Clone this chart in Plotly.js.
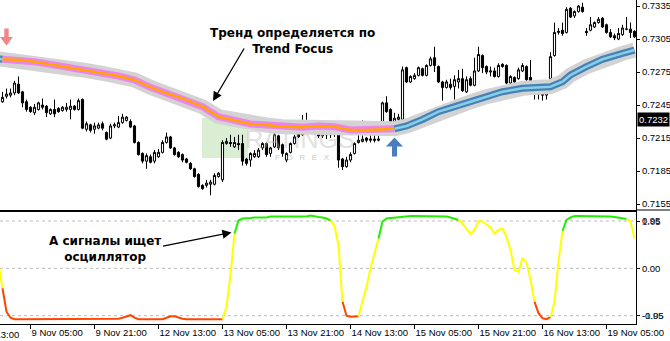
<!DOCTYPE html>
<html><head><meta charset="utf-8">
<script src="https://cdn.plot.ly/plotly-3.0.1.min.js"></script>
<style>html,body{margin:0;padding:0;background:#fff;overflow:hidden}#chart{width:670px;height:341px}</style>
</head><body><div id="chart"></div>
<script>
// ---- DATA (AUDUSD H1, 8 Nov 22:00 .. 19 Nov 12:00) ----
const priceOpen=[
0.7248,0.7253,0.7254,0.7256,0.7264,0.7257,0.7248,0.7243,0.7238,0.7241,
0.7245,0.7244,0.7237,0.7241,0.7242,0.7240,0.7241,0.7241,0.7244,0.7241,
0.7250,0.7223,0.7227,0.7223,0.7224,0.7228,0.7220,0.7215,0.7226,0.7225,
0.7229,0.7231,0.7230,0.7226,0.7211,0.7201,0.7194,0.7198,0.7194,0.7198,
0.7202,0.7211,0.7216,0.7206,0.7202,0.7200,0.7196,0.7192,0.7187,0.7182,
0.7172,0.7172,0.7173,0.7173,0.7180,0.7177,0.7210,0.7211,0.7207,0.7210,
0.7210,0.7196,0.7195,0.7198,0.7198,0.7206,0.7210,0.7201,0.7207,0.7217,
0.7209,0.7195,0.7202,0.7210,0.7220,0.7218,0.7226,0.7220,0.7223,0.7220,
0.7217,0.7220,0.7218,0.7220,0.7218,0.7196,0.7189,0.7195,0.7201,0.7211,
0.7212,0.7215,0.7213,0.7214,0.7213,0.7229,0.7247,0.7241,0.7230,0.7232,
0.7232,0.7279,0.7266,0.7269,0.7272,0.7278,0.7272,0.7281,0.7288,0.7280,
0.7266,0.7261,0.7264,0.7262,0.7266,0.7269,0.7257,0.7269,0.7263,0.7276,
0.7290,0.7280,0.7275,0.7276,0.7271,0.7282,0.7281,0.7265,0.7270,0.7269,
0.7276,0.7280,0.7270,0.7257,0.7255,0.7256,0.7254,0.7269,0.7290,0.7311,
0.7313,0.7311,0.7333,0.7326,0.7330,0.7334,0.7312,0.7313,0.7316,0.7320,
0.7324,0.7318,0.7311,0.7308,0.7305,0.7309,0.7314,0.7314,0.7312];
const priceHigh=[
0.7257,0.7260,0.7260,0.7267,0.7271,0.7258,0.7250,0.7244,0.7246,0.7248,
0.7251,0.7245,0.7242,0.7250,0.7243,0.7244,0.7247,0.7250,0.7245,0.7251,
0.7251,0.7230,0.7228,0.7229,0.7229,0.7230,0.7221,0.7228,0.7229,0.7235,
0.7237,0.7235,0.7232,0.7227,0.7212,0.7202,0.7201,0.7200,0.7204,0.7205,
0.7213,0.7220,0.7217,0.7207,0.7203,0.7201,0.7197,0.7193,0.7188,0.7183,
0.7173,0.7177,0.7177,0.7183,0.7184,0.7213,0.7215,0.7218,0.7216,0.7218,
0.7218,0.7197,0.7202,0.7204,0.7206,0.7211,0.7211,0.7207,0.7220,0.7218,
0.7210,0.7202,0.7211,0.7218,0.7222,0.7236,0.7238,0.7227,0.7226,0.7222,
0.7221,0.7222,0.7221,0.7222,0.7220,0.7197,0.7198,0.7202,0.7211,0.7218,
0.7231,0.7216,0.7225,0.7225,0.7218,0.7248,0.7253,0.7242,0.7238,0.7237,
0.7280,0.7280,0.7272,0.7274,0.7280,0.7279,0.7282,0.7289,0.7298,0.7281,
0.7267,0.7268,0.7269,0.7272,0.7277,0.7278,0.7271,0.7271,0.7288,0.7298,
0.7291,0.7281,0.7280,0.7279,0.7283,0.7283,0.7282,0.7272,0.7271,0.7279,
0.7283,0.7281,0.7286,0.7259,0.7258,0.7258,0.7257,0.7293,0.7320,0.7315,
0.7320,0.7334,0.7334,0.7331,0.7336,0.7338,0.7315,0.7325,0.7321,0.7325,
0.7325,0.7319,0.7314,0.7310,0.7315,0.7318,0.7325,0.7320,0.7313];
const priceLow=[
0.7247,0.7251,0.7252,0.7254,0.7255,0.7243,0.7239,0.7238,0.7236,0.7240,
0.7241,0.7234,0.7236,0.7234,0.7238,0.7239,0.7239,0.7232,0.7240,0.7240,
0.7223,0.7221,0.7220,0.7219,0.7223,0.7222,0.7213,0.7214,0.7224,0.7224,
0.7228,0.7230,0.7224,0.7210,0.7199,0.7192,0.7187,0.7192,0.7192,0.7197,
0.7201,0.7210,0.7205,0.7199,0.7197,0.7193,0.7192,0.7186,0.7179,0.7170,
0.7168,0.7170,0.7163,0.7172,0.7179,0.7175,0.7209,0.7207,0.7206,0.7204,
0.7190,0.7190,0.7189,0.7197,0.7197,0.7204,0.7198,0.7198,0.7206,0.7204,
0.7198,0.7193,0.7201,0.7209,0.7215,0.7217,0.7220,0.7219,0.7218,0.7215,
0.7215,0.7214,0.7215,0.7216,0.7188,0.7186,0.7188,0.7193,0.7200,0.7210,
0.7211,0.7211,0.7211,0.7211,0.7212,0.7228,0.7238,0.7228,0.7229,0.7230,
0.7231,0.7265,0.7265,0.7268,0.7271,0.7271,0.7271,0.7280,0.7275,0.7265,
0.7249,0.7260,0.7259,0.7250,0.7260,0.7257,0.7256,0.7262,0.7262,0.7275,
0.7274,0.7273,0.7271,0.7270,0.7270,0.7279,0.7264,0.7263,0.7265,0.7268,
0.7275,0.7267,0.7263,0.7250,0.7250,0.7249,0.7250,0.7268,0.7289,0.7309,
0.7308,0.7310,0.7324,0.7324,0.7329,0.7329,0.7308,0.7312,0.7315,0.7319,
0.7315,0.7310,0.7306,0.7304,0.7304,0.7308,0.7313,0.7306,0.7306];
const priceClose=[
0.7252,0.7255,0.7256,0.7265,0.7256,0.7247,0.7241,0.7239,0.7243,0.7247,
0.7243,0.7238,0.7241,0.7237,0.7239,0.7243,0.7243,0.7244,0.7241,0.7249,
0.7224,0.7228,0.7222,0.7226,0.7227,0.7224,0.7214,0.7226,0.7227,0.7229,
0.7234,0.7234,0.7225,0.7211,0.7200,0.7194,0.7199,0.7193,0.7202,0.7202,
0.7211,0.7216,0.7206,0.7200,0.7198,0.7195,0.7193,0.7187,0.7180,0.7171,
0.7169,0.7174,0.7175,0.7181,0.7183,0.7211,0.7212,0.7210,0.7211,0.7209,
0.7194,0.7192,0.7201,0.7201,0.7204,0.7210,0.7200,0.7206,0.7218,0.7206,
0.7201,0.7201,0.7210,0.7216,0.7216,0.7224,0.7221,0.7224,0.7220,0.7217,
0.7219,0.7218,0.7219,0.7219,0.7195,0.7189,0.7195,0.7200,0.7210,0.7213,
0.7214,0.7213,0.7214,0.7213,0.7214,0.7247,0.7239,0.7229,0.7233,0.7234,
0.7277,0.7266,0.7271,0.7272,0.7279,0.7272,0.7281,0.7287,0.7281,0.7266,
0.7261,0.7266,0.7261,0.7268,0.7269,0.7258,0.7268,0.7263,0.7276,0.7291,
0.7279,0.7275,0.7276,0.7271,0.7281,0.7280,0.7265,0.7271,0.7266,0.7277,
0.7281,0.7268,0.7266,0.7255,0.7256,0.7254,0.7256,0.7289,0.7311,0.7312,
0.7310,0.7332,0.7325,0.7330,0.7335,0.7330,0.7311,0.7318,0.7320,0.7323,
0.7316,0.7311,0.7307,0.7306,0.7310,0.7315,0.7314,0.7311,0.7307];

// Trend Focus line (bar index, price)
const trendBars=[-1,0,5,8,12,16,20,25,29,33,37,41,45,50,54,58,62,66,70,75,79,83,87,91,95,98,101,105,109,113,117,121,125,130,134,137,140,142,146,150,155,158];
const trendValues=[0.72870,0.72866,0.72860,0.72844,0.72820,0.72799,0.72769,0.72739,0.72714,0.72678,0.72611,0.72557,0.72511,0.72435,0.72344,0.72308,0.72278,0.72269,0.72253,0.72248,0.72260,0.72253,0.72223,0.72223,0.72229,0.72234,0.72260,0.72319,0.72390,0.72435,0.72480,0.72526,0.72571,0.72602,0.72611,0.72617,0.72662,0.72723,0.72799,0.72866,0.72920,0.72950];
const trendState=[[-1,0,'up'],[0,98,'down'],[98,158,'up']];

// Oscillator (bars -1 .. 158)
const oscValues=[
0.10,-0.40,-0.87,-0.99,-1.02,-1.02,-1.02,-1.02,-1.02,-1.02,
-1.02,-1.02,-1.02,-1.02,-1.02,-1.02,-1.02,-1.02,-1.02,-1.02,
-1.02,-1.02,-1.02,-1.02,-1.02,-1.02,-1.02,-1.02,-1.02,-1.02,
-1.01,-0.99,-0.96,-0.94,-0.99,-1.02,-1.02,-1.02,-1.02,-1.02,
-1.02,-1.02,-0.99,-0.96,-0.96,-0.99,-1.01,-1.02,-1.02,-1.02,
-1.02,-1.02,-1.02,-1.02,-1.02,-1.02,-1.02,-0.77,-0.13,0.70,
0.96,1.00,1.00,1.01,1.02,1.02,1.02,1.02,1.04,1.04,
1.04,1.04,1.04,1.04,1.04,1.04,1.04,1.04,1.06,1.04,
1.03,1.02,1.00,0.96,0.85,0.47,-0.67,-0.95,-0.97,-0.97,
-0.96,-0.67,-0.37,0.00,0.30,0.60,0.94,1.00,1.01,1.02,
1.02,1.04,1.05,1.05,1.05,1.05,1.05,1.05,1.05,1.05,
1.05,1.05,1.04,1.02,1.00,0.97,0.90,0.79,0.69,0.77,
0.95,0.94,0.88,0.82,0.70,0.77,0.80,0.63,0.37,-0.03,
-0.07,0.21,0.12,-0.23,-0.67,-0.90,-1.00,-1.02,-0.98,-0.67,
0.14,0.75,0.97,1.02,1.05,1.05,1.05,1.05,1.05,1.05,
1.05,1.05,1.04,1.04,1.03,1.02,1.01,0.99,0.94,0.60];
const oscFirstBar=-1;
const oscState=[[-1,0,'flat'],[0,55,'sell'],[55,58,'flat'],[58,82,'buy'],[82,85,'flat'],[85,89,'sell'],[89,94,'flat'],[94,114,'buy'],[114,133,'flat'],[133,137,'sell'],[137,140,'flat'],[140,156,'buy'],[156,158,'flat']];
const oscLevels=[0.95,0.00,-0.95];
const oscTickText=['0.95','0.00','-0.95'];
const oscExtremeText=['1.05','-1.05'];

const priceTicks=[0.7155,0.7185,0.7215,0.7245,0.7275,0.7305,0.7335];
const lastPrice=0.7232;
const timeTickBars=[7,23,39,55,71,87,103,119,135,151];
const timeTickText=['9 Nov 05:00','9 Nov 21:00','12 Nov 13:00','13 Nov 05:00','13 Nov 21:00','14 Nov 13:00','15 Nov 05:00','15 Nov 21:00','16 Nov 13:00','19 Nov 05:00'];
const prevTimeLabel='8 Nov 13:00';

// ---- LAYOUT GEOMETRY ----
const PW=636, PH=324;
const xRange=[-0.625,158.375];
const y2Range=[0.714959,0.73405];
const yRange=[-1.1166,1.1306];
const barIdx=priceOpen.map((_,i)=>i);
const px=v=>v/PW, py=v=>1-v/PH;
const pxToBar=v=>xRange[0]+v/PW*(xRange[1]-xRange[0]);
const pyToPrice=v=>y2Range[1]-v/210*(y2Range[1]-y2Range[0]);
const FONT='"Liberation Sans", Arial, sans-serif';
const tickFont={family:FONT,size:9.5,color:'#000'};

const traces=[];
// watermark (under candles)
traces.push({type:'scatter',mode:'text',x:[pxToBar(300),pxToBar(302)],y:[pyToPrice(142),pyToPrice(158)],
  text:['RATINGS','F   O   R   E   X'],textfont:{family:FONT,size:[25,8],color:['rgba(185,185,185,0.45)','rgba(160,160,160,0.6)']},
  xaxis:'x2',yaxis:'y2',hoverinfo:'skip'});
traces.push({type:'candlestick',x:barIdx,open:priceOpen,high:priceHigh,low:priceLow,close:priceClose,
  xaxis:'x2',yaxis:'y2',whiskerwidth:0,hoverinfo:'skip',
  increasing:{line:{color:'#000',width:1},fillcolor:'#fff'},
  decreasing:{line:{color:'#000',width:1},fillcolor:'#000'}});
traces.push({type:'scatter',mode:'lines',x:trendBars,y:trendValues,xaxis:'x2',yaxis:'y2',line:{color:'#D3D3D3',width:15},hoverinfo:'skip'});
const trendCol={down:['#EE82EE','#FFA500'],up:['#4682B4','#87CEEB']};
trendState.forEach(([a,b,s])=>{
  const xs=[],ys=[];
  trendBars.forEach((t,i)=>{if(t>=a&&t<=b){xs.push(t);ys.push(trendValues[i]);}});
  traces.push({type:'scatter',mode:'lines',x:xs,y:ys,xaxis:'x2',yaxis:'y2',line:{color:trendCol[s][0],width:7},hoverinfo:'skip'});
  traces.push({type:'scatter',mode:'lines',x:xs,y:ys,xaxis:'x2',yaxis:'y2',line:{color:trendCol[s][1],width:2.5},hoverinfo:'skip'});
});
const oscCol={sell:'#FF4500',flat:'#FFFF00',buy:'#22EE00'};
oscState.forEach(([a,b,s])=>{
  const xs=[],ys=[];
  oscValues.forEach((v,i)=>{const t=i+oscFirstBar;if(t>=a&&t<=b){xs.push(t);ys.push(v);}});
  traces.push({type:'scatter',mode:'lines',x:xs,y:ys,xaxis:'x',yaxis:'y',line:{color:oscCol[s],width:2},hoverinfo:'skip'});
});

function arrowShape(tipX,tipY,dir,headH,headHalf,stemHalf,stemLen,color){
  const d=dir; // +1 pointing down, -1 pointing up
  const baseY=tipY-d*headH, endY=baseY-d*stemLen;
  const pts=[[tipX,tipY],[tipX+headHalf,baseY],[tipX+stemHalf,baseY],[tipX+stemHalf,endY],[tipX-stemHalf,endY],[tipX-stemHalf,baseY],[tipX-headHalf,baseY]];
  const path='M'+pts.map(p=>px(p[0]).toFixed(5)+','+py(p[1]).toFixed(5)).join(' L')+' Z';
  return {type:'path',xref:'paper',yref:'paper',path:path,fillcolor:color,line:{width:0},layer:'above'};
}

const shapes=[
  {type:'rect',xref:'paper',yref:'paper',x0:px(202),x1:px(248),y0:py(158),y1:py(118),fillcolor:'rgba(150,205,130,0.35)',line:{width:0},layer:'below'},
  {type:'line',xref:'paper',yref:'paper',x0:1,x1:670/PW,y0:py(210),y1:py(210),line:{color:'#000',width:1}},
  arrowShape(6.5,45.5,1,8.5,6.5,2.2,8.5,'#F28686'),
  arrowShape(394.5,137.5,-1,9,8.5,2.5,10,'#4A7EBB')
];
oscLevels.forEach(v=>shapes.push({type:'line',xref:'paper',yref:'y',x0:0,x1:1,y0:v,y1:v,line:{color:'#BBBBBB',width:1,dash:'3px,3px'},layer:'below'}));

const annFont={family:'"DejaVu Sans", Verdana, sans-serif',size:12,color:'#000'};
const annotations=[
  {xref:'paper',yref:'paper',x:px(292.5),y:py(41),text:'<b>Тренд определяется по<br>Trend Focus</b>',showarrow:false,font:annFont,xanchor:'center',yanchor:'middle'},
  {xref:'paper',yref:'paper',x:px(213),y:py(101),ax:32,ay:-54,text:'',showarrow:true,arrowhead:2,arrowsize:1.4,arrowwidth:1.3,arrowcolor:'#000'},
  {xref:'paper',yref:'paper',x:px(104.5),y:py(248.5),text:'<b>А сигналы ищет<br>осциллятор</b>',showarrow:false,font:annFont,xanchor:'center',yanchor:'middle'},
  {xref:'paper',yref:'paper',x:px(231.5),y:py(232.5),ax:-70,ay:14,text:'',showarrow:true,arrowhead:2,arrowsize:1.4,arrowwidth:1.3,arrowcolor:'#000'},
  {xref:'paper',yref:'y2',x:1,y:lastPrice,xanchor:'left',yanchor:'middle',xshift:1,text:lastPrice.toFixed(4),showarrow:false,bgcolor:'#000',font:{family:FONT,size:9.5,color:'#fff'},borderpad:1},
  {xref:'paper',yref:'paper',x:px(30.5-64.1),y:0,xanchor:'left',yanchor:'top',yshift:-3,text:prevTimeLabel,showarrow:false,font:tickFont},
  {xref:'paper',yref:'y',x:1,y:oscLevels[0],xanchor:'left',yanchor:'middle',xshift:4,text:oscExtremeText[0],showarrow:false,font:{family:FONT,size:9.5,color:'#1a2a55'}},
  {xref:'paper',yref:'y',x:1,y:oscLevels[2],xanchor:'left',yanchor:'middle',xshift:4,text:oscExtremeText[1],showarrow:false,font:{family:FONT,size:9.5,color:'#1a2a55'}}
];

const layout={
  width:670,height:341,margin:{l:0,r:34,t:0,b:17},
  paper_bgcolor:'#fff',plot_bgcolor:'#fff',showlegend:false,boxgap:0.25,
  xaxis:{anchor:'y',domain:[0,1],range:xRange,tickvals:timeTickBars,ticktext:timeTickText,ticks:'outside',ticklen:4,tickcolor:'#000',
    tickangle:0,ticklabelposition:'outside right',tickfont:tickFont,showline:true,mirror:true,linecolor:'#000',linewidth:1,
    showgrid:false,zeroline:false,fixedrange:true,rangeslider:{visible:false}},
  xaxis2:{anchor:'y2',matches:'x',range:xRange,showticklabels:false,ticks:'',showline:true,linecolor:'#000',linewidth:1,showgrid:false,zeroline:false,rangeslider:{visible:false}},
  yaxis:{domain:[0,112/PH],range:yRange,side:'right',tickvals:oscLevels,ticktext:oscTickText,ticks:'outside',ticklen:3,tickcolor:'#000',
    tickfont:tickFont,showline:true,linecolor:'#000',linewidth:1,showgrid:false,zeroline:false},
  yaxis2:{domain:[1-210/PH,1],range:y2Range,side:'right',tickvals:priceTicks,tickformat:'.4f',ticks:'outside',ticklen:3,tickcolor:'#000',
    tickfont:tickFont,showline:true,linecolor:'#000',linewidth:1,showgrid:false,zeroline:false},
  shapes:shapes,annotations:annotations
};
Plotly.newPlot('chart',traces,layout,{staticPlot:true,displayModeBar:false});
</script></body></html>
